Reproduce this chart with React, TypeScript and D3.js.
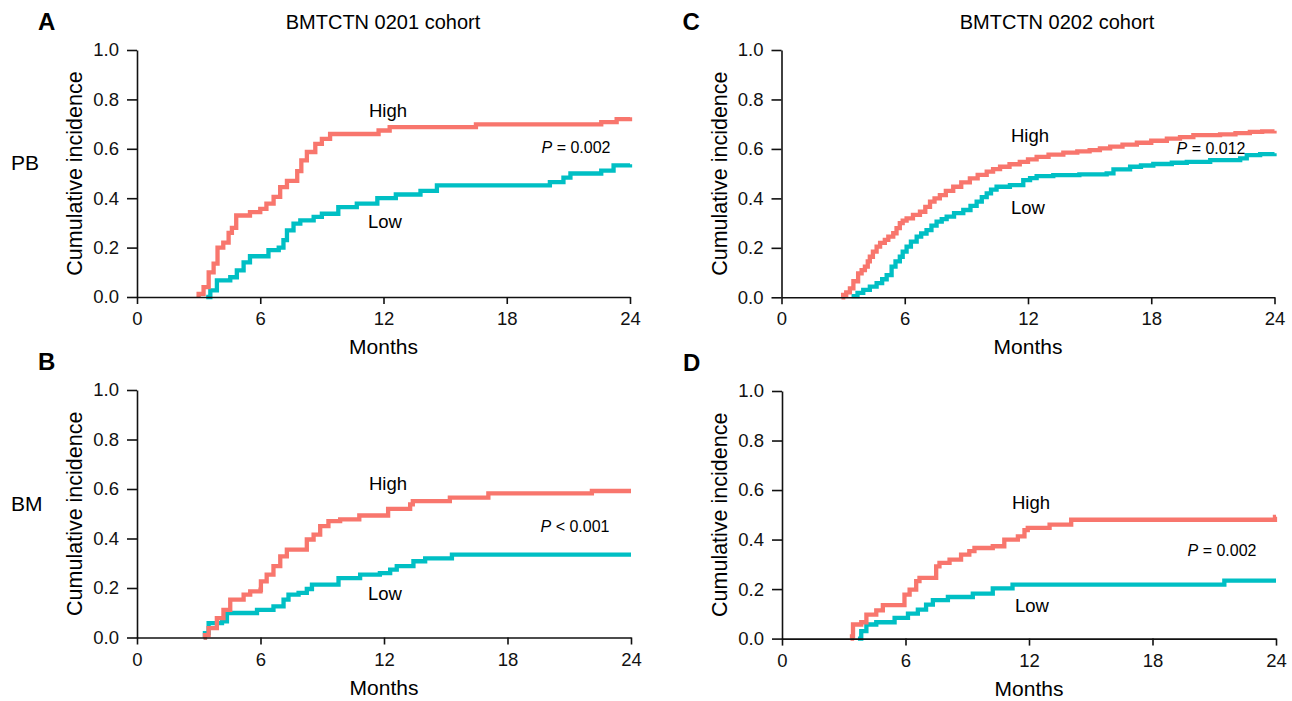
import * as d3 from 'd3';
import React, { useEffect, useRef } from 'react';

// A: BMTCTN 0201, PB
const aHighT = [3.0, 3.0, 3.24, 3.49, 3.73, 3.92, 4.2, 4.46, 4.62, 4.83, 5.5, 6.0, 6.3, 6.65, 6.97, 7.3, 7.8, 8.0, 8.27, 8.68, 9.0, 9.4, 11.76, 12.3, 16.5, 22.6, 23.35, 24];
const aHighV = [0, 0.013, 0.04, 0.1, 0.135, 0.2, 0.22, 0.26, 0.28, 0.33, 0.344, 0.357, 0.378, 0.405, 0.445, 0.47, 0.51, 0.553, 0.587, 0.62, 0.64, 0.66, 0.674, 0.688, 0.699, 0.708, 0.72, 0.728];
const aLowT = [3.37, 3.57, 3.89, 4.54, 4.86, 5.19, 5.5, 6.4, 6.9, 7.13, 7.3, 7.62, 7.95, 8.6, 9.0, 9.8, 10.7, 11.7, 12.6, 13.8, 14.6, 20.1, 20.76, 21.1, 22.6, 23.2, 24];
const aLowV = [0, 0.027, 0.067, 0.08, 0.108, 0.14, 0.165, 0.19, 0.2, 0.23, 0.27, 0.297, 0.31, 0.324, 0.337, 0.364, 0.378, 0.4, 0.415, 0.43, 0.452, 0.465, 0.483, 0.5, 0.512, 0.533, 0.537];

// B: BMTCTN 0201, BM
const bHighT = [3.24, 3.3, 3.48, 3.88, 4.2, 4.53, 5.18, 5.5, 6.0, 6.02, 6.3, 6.63, 6.96, 7.28, 8.25, 8.58, 8.9, 9.3, 9.87, 10.8, 12.2, 13.27, 13.4, 15.2, 17.07, 22.1, 24];
const bHighV = [0, 0.01, 0.038, 0.078, 0.112, 0.153, 0.173, 0.186, 0.193, 0.227, 0.254, 0.288, 0.328, 0.355, 0.396, 0.416, 0.45, 0.47, 0.477, 0.493, 0.52, 0.538, 0.551, 0.565, 0.582, 0.592, 0.592];
const bLowT = [3.24, 3.3, 3.48, 4.13, 4.37, 5.83, 6.63, 7.12, 7.36, 7.85, 8.25, 8.5, 9.79, 10.84, 11.8, 12.3, 12.62, 13.43, 14.0, 15.3, 24];
const bLowV = [0, 0.018, 0.058, 0.065, 0.099, 0.112, 0.126, 0.153, 0.173, 0.18, 0.196, 0.214, 0.24, 0.254, 0.26, 0.274, 0.288, 0.308, 0.32, 0.335, 0.335];

// C: BMTCTN 0202, PB
const cHighT = [2.92, 3.0, 3.15, 3.33, 3.5, 3.73, 3.9, 4.06, 4.2, 4.3, 4.45, 4.63, 4.8, 5.03, 5.2, 5.44, 5.6, 5.76, 5.9, 6.09, 6.4, 6.74, 7.0, 7.23, 7.45, 7.71, 8.0, 8.36, 8.75, 9.17, 9.55, 9.99, 10.3, 10.64, 11.1, 11.6, 12.0, 12.42, 13.0, 13.72, 14.4, 15.0, 15.5, 16.0, 16.6, 17.3, 18.0, 18.76, 19.4, 20.05, 21.35, 22.1, 22.8, 23.4, 24];
const cHighV = [0, 0.01, 0.02, 0.036, 0.065, 0.097, 0.11, 0.124, 0.145, 0.164, 0.185, 0.205, 0.22, 0.232, 0.245, 0.259, 0.28, 0.3, 0.31, 0.319, 0.333, 0.346, 0.366, 0.387, 0.4, 0.413, 0.43, 0.447, 0.465, 0.481, 0.495, 0.508, 0.518, 0.528, 0.538, 0.548, 0.558, 0.568, 0.577, 0.585, 0.59, 0.595, 0.602, 0.609, 0.617, 0.625, 0.633, 0.642, 0.648, 0.656, 0.659, 0.664, 0.669, 0.671, 0.673];
const cLowT = [3.41, 3.7, 3.98, 4.3, 4.63, 4.9, 5.12, 5.36, 5.55, 5.76, 5.9, 6.09, 6.3, 6.58, 6.8, 7.06, 7.3, 7.55, 7.8, 8.04, 8.4, 8.85, 9.2, 9.5, 9.75, 9.99, 10.2, 10.47, 11.12, 11.77, 12.1, 12.42, 13.23, 14.5, 15.83, 16.16, 16.97, 17.5, 18.1, 19.0, 19.73, 20.87, 22.33, 22.65, 23.3, 24];
const cLowV = [0.005, 0.018, 0.03, 0.043, 0.057, 0.073, 0.09, 0.124, 0.145, 0.164, 0.185, 0.205, 0.225, 0.245, 0.258, 0.272, 0.29, 0.306, 0.316, 0.326, 0.34, 0.353, 0.37, 0.387, 0.405, 0.42, 0.435, 0.447, 0.454, 0.474, 0.482, 0.49, 0.494, 0.497, 0.501, 0.517, 0.528, 0.533, 0.539, 0.544, 0.548, 0.555, 0.562, 0.575, 0.579, 0.582];

// D: BMTCTN 0202, BM
const dHighT = [3.33, 3.4, 3.45, 3.85, 4.1, 4.58, 4.9, 5.95, 6.2, 6.52, 6.68, 7.49, 7.65, 8.14, 8.7, 9.1, 9.35, 10.24, 10.8, 11.46, 11.78, 11.94, 13.0, 14.05, 23.95, 24];
const dHighV = [0, 0.009, 0.057, 0.066, 0.097, 0.114, 0.135, 0.178, 0.198, 0.232, 0.245, 0.292, 0.306, 0.319, 0.339, 0.353, 0.366, 0.373, 0.4, 0.413, 0.438, 0.447, 0.46, 0.48, 0.492, 0.492];
const dLowT = [3.69, 3.85, 4.1, 4.58, 5.47, 6.12, 6.6, 7.0, 7.33, 8.06, 9.27, 10.24, 11.2, 21.49, 24];
const dLowV = [0, 0.03, 0.057, 0.066, 0.084, 0.101, 0.117, 0.137, 0.155, 0.168, 0.182, 0.203, 0.218, 0.234, 0.234];

const xTicks = [0, 6, 12, 18, 24];
const yTicks = [0, 0.2, 0.4, 0.6, 0.8, 1.0];
const cohorts = ['BMTCTN 0201 cohort', 'BMTCTN 0202 cohort'];
const rowLabels = ['PB', 'BM'];
const pLabels = ['P = 0.002', 'P < 0.001', 'P = 0.012', 'P = 0.002'];

const RED = '#F8766D';
const TEAL = '#00BFC4';
const FONT = 'Arial, "Liberation Sans", sans-serif';

const toPts = (t: number[], v: number[]) => t.map((d, i) => [d, v[i]] as [number, number]);

const panels = [
  { letter: 'A', x0: 137, x1: 630, yTop: 50, yBot: 297, high: toPts(aHighT, aHighV), low: toPts(aLowT, aLowV), hi: [388, 110], lo: [385, 221], p: [576, 147], pi: 0 },
  { letter: 'B', x0: 137, x1: 631, yTop: 390, yBot: 637.5, high: toPts(bHighT, bHighV), low: toPts(bLowT, bLowV), hi: [388, 483], lo: [385, 593], p: [575, 526], pi: 1 },
  { letter: 'C', x0: 781.5, x1: 1274.5, yTop: 50, yBot: 297.3, high: toPts(cHighT, cHighV), low: toPts(cLowT, cLowV), hi: [1030, 135], lo: [1028, 207], p: [1211, 148], pi: 2 },
  { letter: 'D', x0: 782, x1: 1276, yTop: 391, yBot: 638.6, high: toPts(dHighT, dHighV), low: toPts(dLowT, dLowV), hi: [1031, 502], lo: [1032, 605], p: [1222, 550], pi: 3 },
];

export default function App() {
  const ref = useRef<SVGSVGElement>(null);

  useEffect(() => {
    const svg = d3.select(ref.current);
    svg.selectAll('*').remove();
    svg.style('font-family', FONT);

    panels.forEach((pn) => {
      const x = d3.scaleLinear().domain([0, 24]).range([pn.x0, pn.x1]);
      const y = d3.scaleLinear().domain([0, 1]).range([pn.yBot, pn.yTop]);
      const g = svg.append('g');

      const line = d3
        .line<[number, number]>()
        .x((d) => x(d[0]))
        .y((d) => y(d[1]))
        .curve(d3.curveStepAfter);

      [
        [pn.low, TEAL],
        [pn.high, RED],
      ].forEach(([pts, col]) => {
        g.append('path')
          .attr('d', line(pts as [number, number][]))
          .attr('fill', 'none')
          .attr('stroke', col as string)
          .attr('stroke-width', 4.3);
      });

      const yAx = g
        .append('g')
        .attr('transform', `translate(${pn.x0},0)`)
        .call(d3.axisLeft(y).tickValues(yTicks).tickFormat(d3.format('.1f')).tickSize(10).tickSizeOuter(0).tickPadding(8));
      const xAx = g
        .append('g')
        .attr('transform', `translate(0,${pn.yBot})`)
        .call(d3.axisBottom(x).tickValues(xTicks).tickFormat(d3.format('d')).tickSize(7).tickSizeOuter(0).tickPadding(8));
      [yAx, xAx].forEach((a) => {
        a.selectAll('path, line').attr('stroke', '#111').attr('stroke-width', 1.6);
        a.selectAll('text').attr('font-size', 18.5).attr('font-family', FONT).attr('fill', '#111');
      });

      g.append('text')
        .attr('x', (pn.x0 + pn.x1) / 2)
        .attr('y', pn.yBot + 57)
        .attr('text-anchor', 'middle')
        .attr('font-size', 21)
        .text('Months');

      const yMid = (pn.yTop + pn.yBot) / 2;
      g.append('text')
        .attr('transform', `translate(${pn.x0 - 55},${yMid}) rotate(-90)`)
        .attr('text-anchor', 'middle')
        .attr('font-size', 21.5)
        .text('Cumulative incidence');

      g.append('text')
        .attr('x', pn.x0 - 99)
        .attr('y', pn.yTop - 20)
        .attr('font-size', 24)
        .attr('font-weight', 'bold')
        .text(pn.letter);

      g.append('text').attr('x', pn.hi[0]).attr('y', pn.hi[1] + 6.5).attr('text-anchor', 'middle').attr('font-size', 18.5).text('High');
      g.append('text').attr('x', pn.lo[0]).attr('y', pn.lo[1] + 6.5).attr('text-anchor', 'middle').attr('font-size', 18.5).text('Low');

      const [pTxt, rest] = [pLabels[pn.pi].slice(0, 1), pLabels[pn.pi].slice(1)];
      const pt = g.append('text').attr('x', pn.p[0]).attr('y', pn.p[1] + 6).attr('text-anchor', 'middle').attr('font-size', 16);
      pt.append('tspan').attr('font-style', 'italic').text(pTxt);
      pt.append('tspan').text(rest);
    });

    cohorts.forEach((c, i) => {
      svg.append('text')
        .attr('x', i === 0 ? 383 : 1057)
        .attr('y', 29)
        .attr('text-anchor', 'middle')
        .attr('font-size', 20)
        .text(c);
    });

    rowLabels.forEach((r, i) => {
      svg.append('text')
        .attr('x', 11)
        .attr('y', i === 0 ? 170 : 511)
        .attr('font-size', 21)
        .text(r);
    });
  }, []);

  return (
    <div style={{ position: 'absolute', left: 0, top: 0 }}>
      <svg ref={ref} width={1292} height={701} style={{ display: 'block', background: '#fff' }}></svg>
    </div>
  );
}
